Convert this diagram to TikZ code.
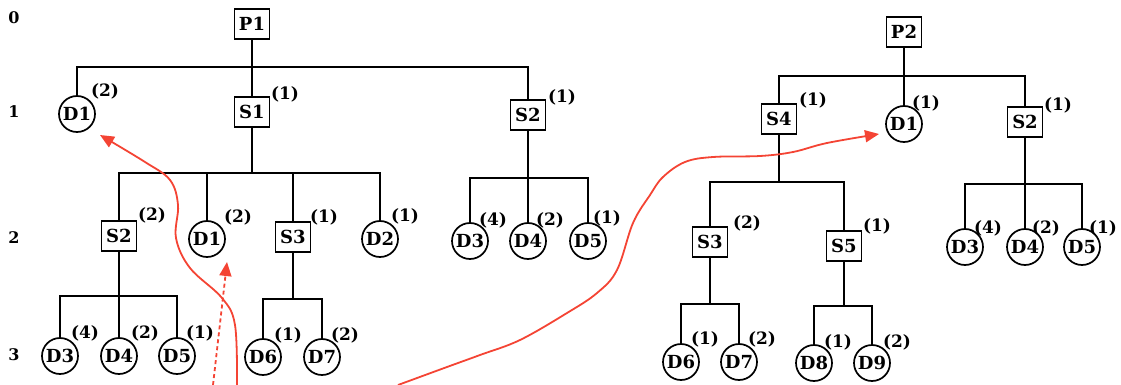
\documentclass[tikz,border=0pt]{standalone}
\usepackage{fontspec}
\setmainfont{DejaVu Serif}
\usetikzlibrary{arrows.meta}
\definecolor{pen}{RGB}{244,68,52}
\begin{document}
\begin{tikzpicture}[x=1pt,y=-1pt,
  box/.style={draw,line width=1.6pt,minimum width=35pt,minimum height=30pt,inner sep=0pt,font=\fontsize{18}{20}\selectfont\bfseries},
  leaf/.style={draw,circle,line width=1.7pt,minimum size=36pt,inner sep=0pt,font=\fontsize{18}{20}\selectfont\bfseries},
  cnt/.style={inner sep=0pt,font=\fontsize{17}{19}\selectfont\bfseries},
  lvl/.style={inner sep=0pt,font=\fontsize{16}{18}\selectfont\bfseries},
  tree/.style={line width=1.3pt},
  redpath/.style={draw=pen,line width=1.8pt,-{Triangle[length=14pt,width=12pt]}}]
\useasboundingbox (0,0) rectangle (1121,385);
% level numbers
\node[lvl] (L0) at (14,18) {0};
\node[lvl] (L1) at (14,112) {1};
\node[lvl] (L2) at (14,238) {2};
\node[lvl] (L3) at (14,355) {3};
% ---------- tree 1 ----------
\node[box]  (P1)  at (252,24)  {P1};
\node[leaf] (D1a) at (77,114)  {D1};  \node[cnt] (cD1a) at (105,91) {(2)};
\node[box]  (S1)  at (252,112) {S1};  \node[cnt] (cS1)  at (285,94) {(1)};
\node[box]  (S2a) at (528,115) {S2};  \node[cnt] (cS2a) at (562,97) {(1)};
\coordinate (bP1) at (252,67);
\foreach \c in {D1a,S1,S2a} \draw[tree] (P1.south) -- (bP1) -| (\c.north);
% level 2 under S1
\node[box]  (S2b) at (119,236) {S2};  \node[cnt] (cS2b) at (152,215) {(2)};
\node[leaf] (D1b) at (207,239) {D1};  \node[cnt] (cD1b) at (238,217) {(2)};
\node[box]  (S3a) at (293,237) {S3};  \node[cnt] (cS3a) at (324,217) {(1)};
\node[leaf] (D2a) at (380,239) {D2};  \node[cnt] (cD2a) at (405,216) {(1)};
\coordinate (bS1) at (252,173);
\foreach \c in {S2b,D1b,S3a,D2a} \draw[tree] (S1.south) -- (bS1) -| (\c.north);
% level 2 under S2
\node[leaf] (D3a) at (470,241) {D3};  \node[cnt] (cD3a) at (493,220) {(4)};
\node[leaf] (D4a) at (528,241) {D4};  \node[cnt] (cD4a) at (550,220) {(2)};
\node[leaf] (D5a) at (588,241) {D5};  \node[cnt] (cD5a) at (607,218) {(1)};
\coordinate (bS2a) at (528,178);
\foreach \c in {D3a,D4a,D5a} \draw[tree] (S2a.south) -- (bS2a) -| (\c.north);
% level 3
\node[leaf] (D3b) at (60,356)  {D3};  \node[cnt] (cD3b) at (85,333)  {(4)};
\node[leaf] (D4b) at (119,356) {D4};  \node[cnt] (cD4b) at (145,333) {(2)};
\node[leaf] (D5b) at (177,356) {D5};  \node[cnt] (cD5b) at (200,333) {(1)};
\coordinate (bS2b) at (119,296);
\foreach \c in {D3b,D4b,D5b} \draw[tree] (S2b.south) -- (bS2b) -| (\c.north);
\node[leaf] (D6a) at (263,357) {D6};  \node[cnt] (cD6a) at (288,335) {(1)};
\node[leaf] (D7a) at (322,357) {D7};  \node[cnt] (cD7a) at (345,335) {(2)};
\coordinate (bS3a) at (293,299);
\foreach \c in {D6a,D7a} \draw[tree] (S3a.south) -- (bS3a) -| (\c.north);
% ---------- tree 2 ----------
\node[box]  (P2)  at (904,32)  {P2};
\node[box]  (S4)  at (779,119) {S4};  \node[cnt] (cS4)  at (813,100) {(1)};
\node[leaf] (D1c) at (904,124) {D1};  \node[cnt] (cD1c) at (926,103) {(1)};
\node[box]  (S2c) at (1025,122) {S2}; \node[cnt] (cS2c) at (1058,105) {(1)};
\coordinate (bP2) at (904,76);
\foreach \c in {S4,D1c,S2c} \draw[tree] (P2.south) -- (bP2) -| (\c.north);
\node[box]  (S3b) at (710,242) {S3};  \node[cnt] (cS3b) at (747,223) {(2)};
\node[box]  (S5)  at (844,246) {S5};  \node[cnt] (cS5)  at (877,226) {(1)};
\coordinate (bS4) at (779,182);
\foreach \c in {S3b,S5} \draw[tree] (S4.south) -- (bS4) -| (\c.north);
\node[leaf] (D3c) at (965,247)  {D3}; \node[cnt] (cD3c) at (988,228)  {(4)};
\node[leaf] (D4c) at (1025,247) {D4}; \node[cnt] (cD4c) at (1046,228) {(2)};
\node[leaf] (D5c) at (1082,247) {D5}; \node[cnt] (cD5c) at (1103,228) {(1)};
\coordinate (bS2c) at (1025,184);
\foreach \c in {D3c,D4c,D5c} \draw[tree] (S2c.south) -- (bS2c) -| (\c.north);
\node[leaf] (D6b) at (681,362) {D6};  \node[cnt] (cD6b) at (705,339) {(1)};
\node[leaf] (D7b) at (739,362) {D7};  \node[cnt] (cD7b) at (762,339) {(2)};
\coordinate (bS3b) at (710,304);
\foreach \c in {D6b,D7b} \draw[tree] (S3b.south) -- (bS3b) -| (\c.north);
\node[leaf] (D8) at (814,363) {D8};   \node[cnt] (cD8) at (838,342) {(1)};
\node[leaf] (D9) at (872,363) {D9};   \node[cnt] (cD9) at (897,342) {(2)};
\coordinate (bS5) at (844,306);
\foreach \c in {D8,D9} \draw[tree] (S5.south) -- (bS5) -| (\c.north);
% ---------- red arrows ----------
\coordinate (rA) at (237,385);
\coordinate (rAend) at (100,135);
\draw[redpath] plot[smooth,tension=0.6] coordinates {(rA) (235,325) (222,298) (190,268) (176,238) (178,205) (170,180) (145,162) (rAend)};
\coordinate (rB) at (213,385);
\coordinate (rBend) at (227,262);
\draw[redpath,dash pattern=on 4pt off 3pt] (rB) -- (rBend);
\coordinate (rC) at (398,385);
\coordinate (rCend) at (879,134);
\draw[redpath] plot[smooth,tension=0.6] coordinates {(rC) (447,367) (480,355) (520,340) (567,313) (597,293) (617,270) (633,223) (650,195) (663,177) (685,162) (713,157) (760,156) (793,152) (827,143) (rCend)};
\end{tikzpicture}
\end{document}
